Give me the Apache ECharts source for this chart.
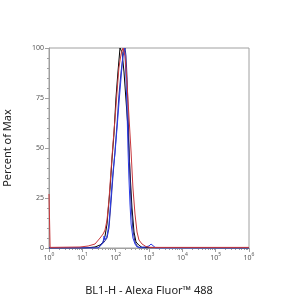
<!DOCTYPE html>
<html><head><meta charset="utf-8">
<script src="https://cdn.jsdelivr.net/npm/echarts@6/dist/echarts.min.js"></script>
<style>html,body{margin:0;padding:0;background:#fff}#c{width:300px;height:299px}</style>
</head><body><div id="c"></div>
<script>
// x: fluorescence intensity (BL1-H), y: percent of max
const blackX = [1, 12, 24, 34, 42, 48, 55, 59, 68, 78, 89, 102, 117, 135, 155, 178, 204, 234, 269, 309, 355, 407, 490, 617, 1000000];
const blackY = [0, 0, 0.5, 1.5, 3, 6, 12, 18, 30, 45, 57, 75, 88, 100, 98, 88, 74, 60, 38, 20, 8, 3, 1.5, 0.3, 0];
const redX = [1, 1.08, 8.5, 15, 24, 34, 42, 48, 55, 63, 72, 83, 95, 110, 125, 145, 166, 191, 220, 250, 290, 330, 380, 437, 500, 617, 800, 1072, 1000000];
const redY = [27, 0.3, 0.5, 1, 2, 5, 7, 9, 14, 24, 38, 52, 64, 78, 90, 97, 100, 96, 82, 66, 48, 30, 17, 8, 4, 2, 0.8, 0.3, 0.3];
const blueX = [1, 30, 34, 42, 45, 48, 55, 63, 72, 83, 95, 110, 125, 145, 166, 178, 191, 204, 220, 234, 250, 269, 290, 330, 380, 437, 537, 760, 1000, 1150, 1300, 1600, 1000000];
const blueY = [0, 0, 1, 3, 6, 4, 6, 12, 25, 38, 47, 60, 72, 85, 97, 100, 97, 85, 68, 50, 35, 22, 12, 5, 2, 0.5, 0.3, 0.5, 1, 2, 1, 0, 0];
const navyX = [1, 30, 34, 45, 55, 63, 72, 83, 95, 110, 125, 145, 166, 191, 204, 220, 234, 250, 269, 290, 330, 380, 437, 537, 1000000];
const navyY = [0, 0, 0.5, 3, 5, 10, 22, 36, 48, 62, 76, 88, 96, 100, 96, 85, 70, 52, 36, 22, 9, 3, 1, 0, 0];
const xMajorTicks = [1, 10, 100, 1000, 10000, 100000, 1000000];
const yTicks = [0, 25, 50, 75, 100];

const minorVals = [];
for (let e = 0; e < 6; e++) for (let k = 2; k <= 9; k++) minorVals.push(k * Math.pow(10, e));

const zip = (xs, ys) => xs.map((x, i) => [x, ys[i]]);
const chart = echarts.init(document.getElementById('c'), null, {renderer: 'canvas'});
const font = 'Noto Sans';
const lineSeries = (name, xs, ys, color) => ({
  name, type: 'line', data: zip(xs, ys), xAxisIndex: 0, showSymbol: false, symbol: 'none',
  lineStyle: {color, width: 1}, itemStyle: {color}, animation: false, clip: true
});
chart.setOption({
  animation: false,
  grid: {left: 49, right: 51, top: 48, bottom: 51, show: true, borderColor: '#a0a0a0', borderWidth: 1,
    containLabel: false, outerBoundsMode: 'none'},
  xAxis: [{
    type: 'log', min: 1, max: 1000000, logBase: 10,
    name: 'BL1-H - Alexa Fluor™ 488', nameLocation: 'middle', nameGap: 37,
    nameTextStyle: {fontFamily: font, fontSize: 11, color: '#222'},
    axisLine: {lineStyle: {color: '#a0a0a0'}},
    axisTick: {length: 4, lineStyle: {color: '#a0a0a0'}, customValues: xMajorTicks},
    splitLine: {show: false},
    axisLabel: {
      customValues: xMajorTicks, margin: 4,
      formatter: v => '{b|10}{s|' + Math.round(Math.log10(v)) + '}',
      rich: {b: {fontFamily: font, fontSize: 7, color: '#555'}, s: {fontFamily: font, fontSize: 5, color: '#555', padding: [0, 0, 6, 0]}}
    }
  }, {
    type: 'log', min: 1, max: 1000000, logBase: 10, position: 'bottom',
    axisLine: {show: false}, axisLabel: {show: false}, splitLine: {show: false},
    axisTick: {length: 2, lineStyle: {color: '#a0a0a0'}, customValues: minorVals}
  }],
  yAxis: {
    type: 'value', min: 0, max: 100, interval: 25,
    name: 'Percent of Max', nameLocation: 'middle', nameGap: 36,
    nameTextStyle: {fontFamily: font, fontSize: 11, color: '#222'},
    axisLine: {show: true, lineStyle: {color: '#a0a0a0'}},
    axisTick: {show: true, length: 4, lineStyle: {color: '#a0a0a0'}},
    minorTick: {show: true, splitNumber: 5, length: 2, lineStyle: {color: '#a0a0a0'}},
    splitLine: {show: false},
    axisLabel: {fontFamily: font, fontSize: 7, color: '#555', margin: 5,
      customValues: yTicks}
  },
  series: [
    lineSeries('black', blackX, blackY, '#000000'),
    lineSeries('navy', navyX, navyY, '#2b2a8a'),
    lineSeries('blue', blueX, blueY, '#2a3be6'),
    lineSeries('red', redX, redY, '#c8383c')
  ]
});
</script></body></html>
